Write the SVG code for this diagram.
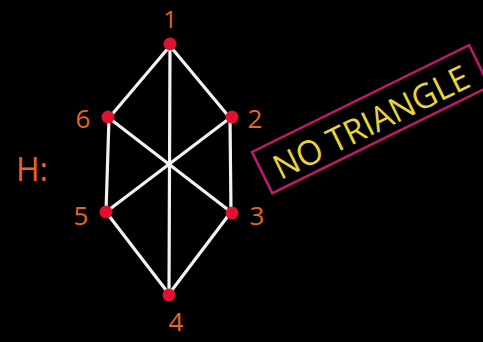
<svg xmlns="http://www.w3.org/2000/svg" width="483" height="342" viewBox="0 0 483 342">
<style>
.edge{stroke:#f2f2f2;stroke-width:3.2;stroke-linecap:round;fill:none}
.dot{fill:#e0102f}
.lbl{fill:#e8651e;font-family:"Open Sans","DejaVu Sans",sans-serif;font-size:26px;text-anchor:middle}
.note{fill:#e6d43c;font-family:"Open Sans","DejaVu Sans",sans-serif;font-size:34px;text-anchor:middle}
</style>
<rect width="483" height="342" fill="#000"/>
<g id="connectors">
<line class="edge" x1="170" y1="46" x2="109" y2="118"/>
<line class="edge" x1="170" y1="46" x2="230" y2="118"/>
<line class="edge" x1="170" y1="46" x2="169" y2="294"/>
<line class="edge" x1="109" y1="118" x2="106" y2="212"/>
<line class="edge" x1="230" y1="118" x2="231" y2="212"/>
<line class="edge" x1="109" y1="118" x2="231" y2="212"/>
<line class="edge" x1="230" y1="118" x2="106" y2="212"/>
<line class="edge" x1="106" y1="212" x2="169" y2="294"/>
<line class="edge" x1="231" y1="212" x2="169" y2="294"/>
</g>
<g id="node1"><circle class="dot" cx="170" cy="44" r="6.5"/><text class="lbl" x="170" y="28" style="font-size:24px">1</text></g>
<g id="node2"><circle class="dot" cx="232" cy="117" r="6.5"/><text class="lbl" x="255" y="128">2</text></g>
<g id="node3"><circle class="dot" cx="232" cy="213" r="6.5"/><text class="lbl" x="257" y="225">3</text></g>
<g id="node4"><circle class="dot" cx="169" cy="295" r="6.5"/><text class="lbl" x="176" y="331">4</text></g>
<g id="node5"><circle class="dot" cx="106" cy="212" r="6.5"/><text class="lbl" x="81" y="225">5</text></g>
<g id="node6"><circle class="dot" cx="108" cy="117" r="6.5"/><text class="lbl" x="83" y="128">6</text></g>
<g id="label-H"><text class="lbl" x="32" y="181" style="font-size:32px">H:</text></g>
<g id="note" transform="translate(252,152) rotate(-26.2)">
<rect x="0" y="0" width="242" height="46" fill="none" stroke="#c0196c" stroke-width="2.5"/>
<text class="note" x="120" y="38" textLength="214" lengthAdjust="spacingAndGlyphs">NO TRIANGLE</text>
</g>
</svg>
